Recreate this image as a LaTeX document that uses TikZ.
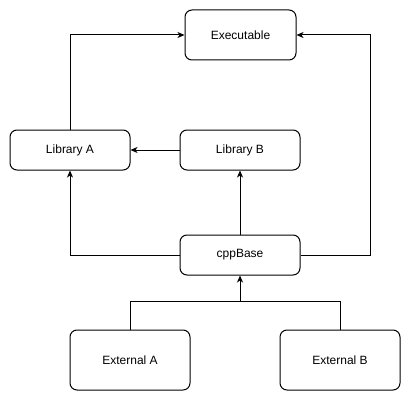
\documentclass[tikz,border=0pt]{standalone}
\usepackage{fontspec}
\setmainfont{Liberation Sans}
\usetikzlibrary{arrows.meta}
\begin{document}
\begin{tikzpicture}[x=1pt,y=-1pt,
  box/.style={draw,rounded corners=7pt,line width=1pt,inner sep=0pt,font=\fontsize{12}{14}\selectfont},
  conn/.style={line width=1pt,-{Stealth[length=7pt,width=6pt,inset=2pt]}},
  plain/.style={line width=1pt}]
\useasboundingbox (0,0) rectangle (411,401);
\node[box,minimum width=111pt,minimum height=50pt] (exe) at (240.5,35) {Executable};
\node[box,minimum width=120pt,minimum height=40pt] (liba) at (70,150) {Library A};
\node[box,minimum width=120pt,minimum height=40pt] (libb) at (240,150) {Library B};
\node[box,minimum width=120pt,minimum height=40pt] (base) at (240,255) {cppBase};
\node[box,minimum width=120pt,minimum height=60pt] (exta) at (130,360) {External A};
\node[box,minimum width=120pt,minimum height=60pt] (extb) at (340,360) {External B};
\coordinate (j) at (240,301);
\draw[conn] (liba.north) |- (exe.west);
\draw[conn] (base.east) -| (370,35) -- (exe.east);
\draw[conn] (libb.west) -- (liba.east);
\draw[conn] (base.north) -- (libb.south);
\draw[conn] (base.west) -| (liba.south);
\draw[plain] (exta.north) |- (extb.north |- j) -- (extb.north);
\draw[conn] (j) -- (base.south);
\end{tikzpicture}
\end{document}
